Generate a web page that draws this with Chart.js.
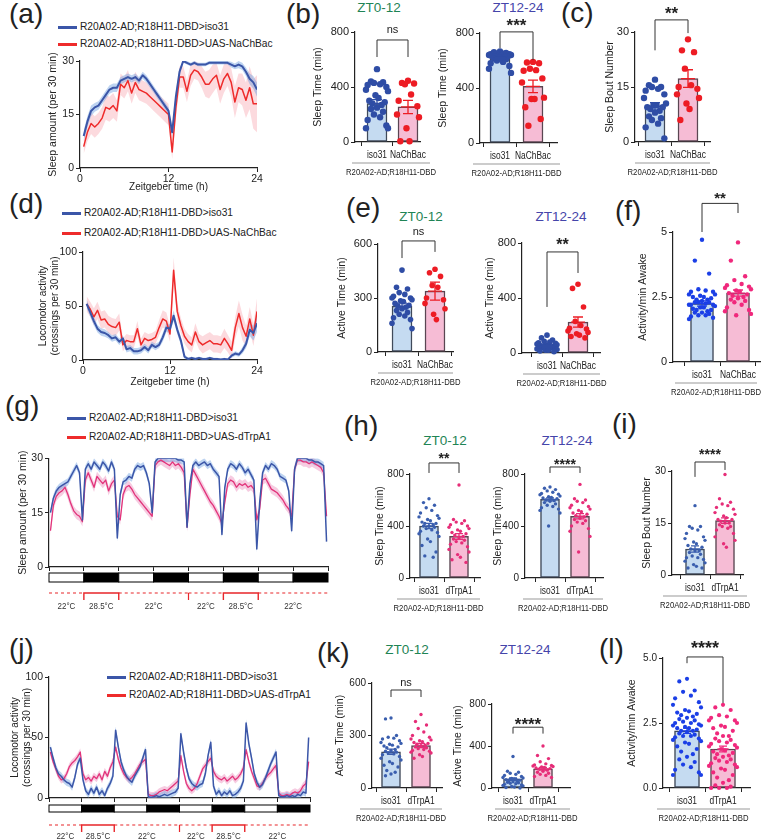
<!DOCTYPE html>
<html>
<head>
<meta charset="utf-8">
<script src="https://cdn.jsdelivr.net/npm/chart.js@4.4.1/dist/chart.umd.min.js"></script>
<style>
  body { margin: 0; width: 764px; height: 840px; position: relative; background: #fff; overflow: hidden;
         font-family: 'Liberation Sans', Arial, sans-serif; color: #222; }
  canvas { position: absolute; }
  .let { position: absolute; font-size: 28px; line-height: 28px; white-space: nowrap; }
  .zt { position: absolute; font-size: 13.5px; line-height: 14px; transform: translateX(-50%); white-space: nowrap; }
  .leg { position: absolute; font-size: 10.2px; line-height: 12px; white-space: nowrap; }
  .leg i { position: absolute; height: 2.5px; }
</style>
</head>
<body>
<script>
// ---- categories / labels ----
const catsNa = ['iso31', 'NaChBac'];
const catsTrp = ['iso31', 'dTrpA1'];
const groupLabel = 'R20A02-AD;R18H11-DBD';
const seriesNa = ['R20A02-AD;R18H11-DBD>iso31', 'R20A02-AD;R18H11-DBD>UAS-NaChBac'];
const seriesTrp = ['R20A02-AD;R18H11-DBD>iso31', 'R20A02-AD;R18H11-DBD>UAS-dTrpA1'];

// ---- (a) sleep per 30 min, 48 bins ----
const aIso = [9,13,16,17,17.5,19,20.5,22,22.5,22.5,24.5,25,25.5,25,25.5,24.5,26,25,23.5,22,20.5,19,17.5,16,10,20,27,30,29.5,29,29.5,29,29,29,29.5,29.5,29.5,29.5,29.5,29.5,29,28.5,29,28.5,27,25,24,22];
const aIsoSem = [1.5,1.5,1.5,1.2,1.2,1.2,1.2,1.2,1.2,1.2,1,1,1,1,1,1,1,1,1,1,1,1,1,1,1.5,1.5,1,0.5,0.5,0.5,0.5,0.5,0.5,0.5,0.5,0.5,0.5,0.5,0.5,0.5,0.8,0.8,1,1,1.2,1.5,1.8,2];
const aNa = [6,10,12.5,11.5,12.5,14,17,16.5,17.5,16,23.5,22.5,24.5,21,24,22,21.5,21,20,19,18,17,16,15,4.5,17,25.5,25.5,21.5,26,27.5,27,25.5,23.5,23.5,25,26,22,25,26.5,24,18.5,22.5,22,19,22.5,18,18];
const aNaSem = [2,2.5,3,3,3,3,3.5,3.5,3.5,3,3,3,3,3,3,3,3,3,3,3,3,3,3,3,2,3,3,3,3,3,2.5,2.5,3,3.5,4,4,3.5,4,4,3.5,4,4.5,4,4.5,5,6,7,8];

// ---- (d) locomotor per 30 min, 48 bins ----
const dIso = [52,44,36,29,26,25,23,20,21,17,20,10,11,8,8,9,12,9,14,12,14,21,30,29,41,28,18,3,1,2,1,2,1,1,2,1,1,0.5,1,0.5,4,6,5,9,15,28,25,34];
const dIsoSem = [4,4,4,3.5,3.5,3.5,3,3,3,3,3,3,3,3,3,3,3,3,3,3,3,4,4,4,5,4,4,2,1,1,1,1,1,1,1,1,1,1,1,1,2,2,2,3,4,6,7,8];
const dNa = [52,47,40,46,37,38,33,31,30,35,14,18,17,17,29,14,20,18,19,21,30,38,36,24,83,45,32,22,17,14,26,17,14,16,18,15,15,14,20,15,9,30,43,30,22,38,23,45];
const dNaSem = [7,7,8,8,8,8,8,8,8,8,6,6,6,6,7,6,6,6,6,6,7,8,8,7,12,8,7,7,7,7,8,7,8,8,8,8,8,8,9,8,8,10,12,12,10,11,10,12];

// ---- (g) sleep, hourly over 96 h ----
const gIso = [15,19,21,22,22.5,23,23.5,25,26.5,28,26,13,
  27,28.5,27,29,28,27,29,28,26.5,29,27,8,
  20,23.5,24,25,24.5,27,28,27.5,28,26,23,15,
  29,30,30,30,30,30,30,30,29.5,29.5,29,11,
  23,28,29,28,28.5,29,28,28.5,27,26,25,9,
  22,27,28.5,28,27,28.5,27.5,26,27,25.5,24,5,
  18,26,28,27,28.5,28,27,25,24.5,24,21,10,
  27,30,30,30,30,29.5,29.5,29,29,28.5,28,7];
const gTrp = [10,17,19.5,20.5,21,22,20,17.5,15.5,14.5,14,12.5,
  24,26,24,22,25,24,23,24,21,23,24,14,
  13,20,22,22.5,21.5,20,19,18,17,16,15,14,
  28,29,29.5,29,28.5,28,29,28,28.5,27.5,26,11,
  20,27,25.5,24,22.5,21,19.5,18,17,15.5,14,12,
  18,23,24,23.5,22,23,22.5,23,22,22.5,21.5,13,
  16,24,24.5,23,21.5,21,20.5,19.5,18.5,17,16,14,
  27,29.5,29.5,29,29,28.5,29,28.5,28,27.5,26,14];

// ---- (j) locomotor, hourly over 96 h ----
const jIso = [42,33,25,20,18,15,13,12,9,17,28,33,
  15,6,3,8,4,9,3,6,2,8,12,18,
  56,42,30,23,18,15,13,18,22,26,33,40,
  1,0.5,1,2,1,2,3,2,3,4,5,8,
  53,38,25,16,12,10,9,11,12,20,35,46,
  10,3,6,2,5,3,6,2,3,5,8,14,
  62,45,33,20,13,9,11,16,22,28,33,38,
  2,1,1,2,1,2,1,3,2,5,4,50];
const jTrp = [38,30,24,18,15,16,20,26,29,31,34,38,
  20,15,17,14,18,16,20,15,22,18,25,30,
  42,32,25,20,17,15,17,20,24,28,30,32,
  3,2,2,3,5,6,7,6,8,10,12,14,
  35,22,12,8,6,8,12,18,24,27,30,33,
  22,18,16,15,17,14,16,18,15,17,20,25,
  40,30,22,16,10,9,12,16,19,21,24,27,
  4,2,2,3,2,4,5,4,6,10,12,30];

// light/dark phases (12 h each) and temperature schedule
const ldPhases = ['L','D','L','D','L','D','L','D'];
const tempFrom = [0, 12, 24, 48, 60, 72];
const tempTo = [12, 24, 48, 60, 72, 96];
const tempC = [22, 28.5, 22, 22, 28.5, 22];

// ---- bar panels: means, SEM, individual flies ----
const bMean0 = [280, 255], bSem0 = [28, 48];
const bIso0 = [530,440,435,430,420,415,400,380,370,340,320,300,290,280,270,250,240,220,200,180,160,120,100,100];
const bNa0 = [445,430,425,420,345,300,260,200,180,100,5,5];
const bMean1 = [615, 412], bSem1 = [8, 45];
const bIso1 = [665,660,655,650,650,645,645,640,640,635,635,630,630,625,625,620,615,610,600,590,580,560,540,510];
const bNa1 = [590,585,580,540,530,525,470,440,330,320,320,260,175,125];
const cMean = [9.7, 17.3], cSem = [1.0, 2.4];
const cIso = [17,15.5,15,15,14.5,14,13,12,10.5,10,10,9.5,9.5,9,8.5,8,7,6.5,6,5,4,1];
const cNa = [28,25,24.5,20,15.5,15,14.5,13,12,10.5,9,6];
const eMean0 = [255, 338], eSem0 = [17, 50];
const eIso0 = [455,360,350,330,320,310,300,300,290,285,280,270,260,255,250,240,230,220,210,200,190,180,160,130];
const eNa0 = [460,440,420,370,360,300,290,270,240,210,180];
const eMean1 = [48, 225], eSem1 = [6, 37];
const eIso1 = [130,110,95,85,80,75,70,65,60,60,55,55,50,50,45,45,40,40,40,35,35,30,30,25,20,20,15,10];
const eNa1 = [500,470,335,230,200,180,175,160,150,140,130,120,110];
const fMean = [2.25, 2.65], fSem = [0.1, 0.12];
const fIso = [4.7,3.9,3.4,2.8,2.75,2.7,2.7,2.6,2.6,2.55,2.5,2.5,2.45,2.4,2.4,2.35,2.3,2.3,2.3,2.25,2.2,2.2,2.2,2.15,2.1,2.1,2.05,2.0,2.0,1.95,1.9,1.9,1.85,1.8,1.8,1.75,1.7,1.65];
const fNa = [4.6,3.9,3.3,3.15,3.0,2.95,2.9,2.85,2.8,2.75,2.7,2.65,2.6,2.55,2.5,2.45,2.4,2.35,2.3,2.2,2.1,2.0,1.95,1.85,1.8];
const hMean0 = [400, 320], hSem0 = [20, 22];
const hIso0 = [610,580,560,540,520,500,480,470,460,450,440,430,420,420,410,400,400,390,380,370,360,350,340,320,300,280,250,200,170,160];
const hTrp0 = [715,450,440,430,420,410,400,390,380,370,360,350,340,330,320,310,300,290,280,270,260,240,220,200,180,160,140,120];
const hMean1 = [605, 475], hSem1 = [12, 20];
const hIso1 = [700,690,680,670,660,650,645,640,630,625,620,615,610,600,595,590,580,570,560,550,540,530,520,500,400];
const hTrp1 = [720,610,600,590,580,560,550,540,530,520,510,500,490,480,470,460,450,440,430,420,400,380,360,320,200];
const iMean = [7.5, 15.7], iSem = [0.9, 0.8];
const iIso = [20,14,14,13.5,13,12,11,10.5,10,9.5,9,8.5,8,7.5,7,7,6.5,6,5.5,5,5,4.5,4,3.5,3,2.5,2,2];
const iTrp = [29,22,21,20.5,20,19.5,19,18,17.5,17,16.5,16,16,15.5,15,15,14.5,14,14,13.5,13,12,11,10,9,8];
const kMean0 = [207, 243], kSem0 = [15, 12];
const kIso0 = [400,395,300,290,285,280,270,260,255,250,245,240,235,230,220,215,210,205,200,195,190,180,170,160,150,140,130,120,100,90,80,70];
const kTrp0 = [420,380,360,340,320,300,290,280,275,270,265,260,255,250,245,240,235,230,225,220,215,210,205,200,190,180,170];
const kMean1 = [85, 183], kSem1 = [12, 13];
const kIso1 = [300,160,150,140,130,120,110,100,95,90,85,80,75,70,65,60,55,50,45,40,35,30,25,20,15,10,5,0];
const kTrp1 = [400,310,280,250,230,220,215,210,205,200,195,190,185,180,170,160,150,140,130,120,110,100];
const lMean = [2.2, 1.5], lSem = [0.1, 0.11];
const lIso = [4.2,4.1,3.75,3.7,3.55,3.45,3.3,3.2,3.1,3.0,2.95,2.9,2.85,2.8,2.75,2.7,2.65,2.6,2.55,2.5,2.5,2.45,2.4,2.4,2.35,2.3,2.3,2.25,2.2,2.2,2.15,2.1,2.05,2.0,2.0,1.95,1.9,1.85,1.8,1.75,1.7,1.6,1.5,1.4,1.3,1.2,1.1,1.0,0.9,0.8,0.7,0.6,0.5,0.5];
const lTrp = [3.2,3.1,3.0,2.8,2.75,2.7,2.6,2.6,2.5,2.4,2.35,2.3,2.2,2.1,2.0,2.0,1.9,1.85,1.8,1.75,1.7,1.65,1.6,1.55,1.5,1.45,1.4,1.35,1.3,1.25,1.2,1.15,1.1,1.05,1.0,0.95,0.9,0.85,0.8,0.75,0.7,0.6,0.5,0.4,0.3,0.2,0.1,0.05,0,0,0];

// ---- styling ----
const FONT = "'Liberation Sans', Arial, sans-serif";
const BLUE = '#3b56a8', RED = '#ee2b2b', PINK = '#e2337a';
const BAR_FILL = ['#c5dbf1', '#f6bcd5'];
const BAR_EDGE = ['#404a5a', '#5a4652'];
const DOTS_NA = ['#2f4da5', '#ed1c24'];
const DOTS_BRIGHT = ['#1b3fe6', '#f0287c'];
const DOTS_TRP = ['#3a5eae', '#e62d78'];
const JIT = [0, -0.55, 0.55, -0.28, 0.28, -0.85, 0.85, -1, 1, -0.14, 0.14, -0.7, 0.7, -0.42, 0.42];

Chart.defaults.font.family = FONT;
Chart.defaults.color = '#222';
Chart.defaults.animation = false;
Chart.defaults.events = [];
Chart.defaults.plugins.legend.display = false;
Chart.defaults.plugins.tooltip.enabled = false;

function addText(cls, text, left, top, color) {
  const d = document.createElement('div');
  d.className = cls;
  d.textContent = text;
  d.style.left = left + 'px';
  d.style.top = top + 'px';
  if (color) d.style.color = color;
  document.body.appendChild(d);
}

function addLegend(labels, colors, x, ys) {
  labels.forEach((t, i) => {
    const d = document.createElement('div');
    d.className = 'leg';
    d.style.left = (x + 22) + 'px';
    d.style.top = (ys[i] - 6) + 'px';
    d.textContent = t;
    const ln = document.createElement('i');
    ln.style.cssText = `left:-22px;width:19px;top:5px;background:${colors[i]}`;
    d.appendChild(ln);
    document.body.appendChild(d);
  });
}

function makeCanvas(ext) {
  const c = document.createElement('canvas');
  const w = ext.right - ext.x, h = ext.bottom - ext.y;
  c.width = w; c.height = h;
  c.style.cssText = `left:${ext.x}px;top:${ext.y}px;width:${w}px;height:${h}px`;
  document.body.appendChild(c);
  return c;
}

// condensed text, like the narrow face used in the figure
function narrowText(ctx, text, x, y, size) {
  ctx.save();
  ctx.font = `${size}px ${FONT}`;
  ctx.textAlign = 'center';
  ctx.textBaseline = 'middle';
  ctx.translate(x, y);
  ctx.scale(0.84, 1);
  ctx.fillText(text, 0, 0);
  ctx.restore();
}

function axisStyle() {
  return {
    grid: { drawOnChartArea: false, drawTicks: true, tickLength: 4, color: '#222', lineWidth: 1 },
    border: { display: true, color: '#222', width: 1.2 }
  };
}

function ldPlugin(p) {
  return {
    id: 'ld',
    afterDraw(chart) {
      const { ctx, scales: { x }, chartArea: ca } = chart;
      ctx.save();
      ctx.lineWidth = 1;
      ctx.strokeStyle = '#000';
      ldPhases.forEach((ph, i) => {
        const x0 = x.getPixelForValue(i * 12), x1 = x.getPixelForValue((i + 1) * 12);
        ctx.fillStyle = ph === 'D' ? '#000' : '#fff';
        ctx.fillRect(x0, ca.bottom + p.ld[0], x1 - x0, p.ld[1]);
        ctx.strokeRect(x0, ca.bottom + p.ld[0], x1 - x0, p.ld[1]);
      });
      const ty = ca.bottom + p.temp[0];
      ctx.strokeStyle = '#e8262a';
      ctx.fillStyle = '#333';
      tempC.forEach((t, i) => {
        const x0 = x.getPixelForValue(tempFrom[i]), x1 = x.getPixelForValue(tempTo[i]);
        ctx.beginPath();
        if (t > 25) {
          ctx.setLineDash([]);
          ctx.lineWidth = 1.4;
          ctx.moveTo(x0, ty + 7); ctx.lineTo(x0, ty); ctx.lineTo(x1, ty); ctx.lineTo(x1, ty + 7);
        } else {
          ctx.setLineDash([3, 3]);
          ctx.lineWidth = 1;
          ctx.moveTo(x0, ty); ctx.lineTo(x1, ty);
        }
        ctx.stroke();
        if (i > 0 && t <= 25 && tempC[i - 1] <= 25) {
          ctx.setLineDash([]);
          ctx.lineWidth = 1.2;
          ctx.beginPath(); ctx.moveTo(x0, ty); ctx.lineTo(x0, ty + 7); ctx.stroke();
        }
        narrowText(ctx, t + '°C', (x0 + x1) / 2, ca.bottom + p.temp[1], 9.5);
      });
      ctx.restore();
    }
  };
}

function timePanel(p) {
  const c = makeCanvas(p.ext);
  const xs = i => p.x0 + i * p.step;
  const semAt = (s, i) => Array.isArray(s) ? s[i] : s;
  const line = (m, color, w) => ({ data: m.map((v, i) => ({ x: xs(i), y: v })), borderColor: color, borderWidth: w,
    pointRadius: 0, fill: false, tension: 0, borderJoinStyle: 'round' });
  const edge = (m, s, k) => ({ data: m.map((v, i) => ({ x: xs(i), y: Math.max(0, v + k * semAt(s, i)) })),
    borderWidth: 0, pointRadius: 0, tension: 0 });
  const datasets = [
    line(p.series[0], p.colors[0], p.widths[0]),
    line(p.series[1], p.colors[1], p.widths[1]),
    { ...edge(p.series[0], p.sems[0], 1), fill: false },
    { ...edge(p.series[0], p.sems[0], -1), fill: '-1', backgroundColor: p.bands[0] },
    { ...edge(p.series[1], p.sems[1], 1), fill: false },
    { ...edge(p.series[1], p.sems[1], -1), fill: '-1', backgroundColor: p.bands[1] }
  ];
  new Chart(c, {
    type: 'line',
    data: { datasets },
    options: {
      responsive: false,
      layout: { padding: { top: p.area.t - p.ext.y, right: p.ext.right - p.area.r, left: 0, bottom: 0 } },
      scales: {
        x: {
          type: 'linear', min: 0, max: p.xMax, ...axisStyle(),
          ticks: { stepSize: 12, display: !!p.xTitle, font: { size: 10.5 }, padding: 1, autoSkip: false, maxRotation: 0 },
          title: { display: !!p.xTitle, text: p.xTitle || '', font: { size: 10 }, padding: 0 },
          afterFit: s => { s.height = p.ext.bottom - p.area.b; }
        },
        y: {
          min: 0, max: p.yMax, ...axisStyle(),
          ticks: { stepSize: p.yMax / 2, font: { size: 10.5 }, padding: 2 },
          title: { display: true, text: p.yTitle, font: { size: p.yTitleSize }, padding: 0 },
          afterFit: s => { s.width = p.area.l - p.ext.x; }
        }
      }
    },
    plugins: p.ld ? [ldPlugin(p)] : []
  });
}

function barExtras(p) {
  return {
    id: 'barExtras',
    afterDatasetsDraw(chart) {
      const { ctx, scales: { x, y }, chartArea: ca } = chart;
      ctx.save();
      p.means.forEach((m, i) => {
        const cx = x.getPixelForValue(i);
        const y0 = y.getPixelForValue(m - p.sems[i]), y1 = y.getPixelForValue(m + p.sems[i]), ym = y.getPixelForValue(m);
        ctx.strokeStyle = p.dotColors[i];
        ctx.lineWidth = 1.3;
        ctx.beginPath();
        ctx.moveTo(cx, y0); ctx.lineTo(cx, y1);
        ctx.moveTo(cx - p.cap, y0); ctx.lineTo(cx + p.cap, y0);
        ctx.moveTo(cx - p.cap, y1); ctx.lineTo(cx + p.cap, y1);
        ctx.moveTo(cx - p.cap * 1.4, ym); ctx.lineTo(cx + p.cap * 1.4, ym);
        ctx.stroke();
      });
      const br = p.bracket;
      const xl = x.getPixelForValue(0), xr = x.getPixelForValue(1), yt = y.getPixelForValue(br.top);
      ctx.strokeStyle = '#333';
      ctx.lineWidth = 1;
      ctx.beginPath();
      ctx.moveTo(xl, y.getPixelForValue(br.left)); ctx.lineTo(xl, yt);
      ctx.lineTo(xr, yt); ctx.lineTo(xr, y.getPixelForValue(br.right));
      ctx.stroke();
      ctx.fillStyle = '#222';
      ctx.textAlign = 'center';
      const ty = y.getPixelForValue(br.textAt);
      if (br.text.includes('*')) {
        ctx.font = `bold ${br.size}px ${FONT}`;
        ctx.textBaseline = 'alphabetic';
        ctx.fillText(br.text, (xl + xr) / 2, ty + br.size * 0.52);
      } else {
        ctx.font = `11px ${FONT}`;
        ctx.textBaseline = 'middle';
        ctx.fillText(br.text, (xl + xr) / 2, ty);
      }
      // category names under the ticks, then the shared genotype line
      ctx.fillStyle = '#222';
      p.cats.forEach((name, i) => narrowText(ctx, name, x.getPixelForValue(i), ca.bottom + 13, 10));
      const gy = ca.bottom + 21;
      ctx.strokeStyle = '#999';
      ctx.beginPath();
      ctx.moveTo(p.group[0] - p.ext.x, gy); ctx.lineTo(p.group[1] - p.ext.x, gy);
      ctx.stroke();
      narrowText(ctx, groupLabel, (p.group[0] + p.group[1]) / 2 - p.ext.x, ca.bottom + 30, 9.2);
      ctx.restore();
    }
  };
}

function barPanel(p) {
  const c = makeCanvas(p.ext);
  const unit = p.bars[1] - p.bars[0];
  const xmin = -(p.bars[0] - p.area.l) / unit, xmax = 1 + (p.area.r - p.bars[1]) / unit;
  const spread = p.spread / unit;
  const dotSet = (vals, g) => ({
    type: 'scatter', order: 0, clip: false,
    data: vals.map((v, i) => ({ x: g + JIT[i % JIT.length] * spread, y: v })),
    pointRadius: p.r, pointBackgroundColor: p.dotColors[g], pointBorderWidth: 0
  });
  new Chart(c, {
    type: 'bar',
    data: {
      datasets: [
        dotSet(p.dots[0], 0),
        dotSet(p.dots[1], 1),
        { type: 'bar', order: 1, data: p.means.map((m, i) => ({ x: i, y: m })), backgroundColor: BAR_FILL,
          borderColor: BAR_EDGE, borderWidth: 1.5, borderSkipped: false, barThickness: p.barW }
      ]
    },
    options: {
      responsive: false,
      layout: { padding: { top: p.area.t - p.ext.y, right: p.ext.right - p.area.r, left: 0, bottom: 0 } },
      scales: {
        x: {
          type: 'linear', min: xmin, max: xmax, offset: false, ...axisStyle(),
          afterBuildTicks: s => { s.ticks = [{ value: 0 }, { value: 1 }]; },
          ticks: { callback: () => '', padding: 0, autoSkip: false, maxRotation: 0 },
          afterFit: s => { s.height = p.ext.bottom - p.area.b; }
        },
        y: {
          min: 0, max: p.yMax, ...axisStyle(),
          ticks: { stepSize: p.yMax / 2, font: { size: p.tickSize }, padding: 2,
                   callback: v => p.fixed ? v.toFixed(1) : String(v) },
          title: { display: true, text: p.yTitle, font: { size: 10.5 }, padding: 0 },
          afterFit: s => { s.width = p.area.l - p.ext.x; }
        }
      }
    },
    plugins: [barExtras(p)]
  });
}

// ---------- panel letters & titles ----------
[['(a)', 9, 0], ['(b)', 286, 0], ['(c)', 561, -1], ['(d)', 9, 190], ['(e)', 346, 194], ['(f)', 615, 197],
 ['(g)', 5, 392], ['(h)', 344, 412], ['(i)', 612, 410], ['(j)', 9, 635], ['(k)', 317, 639], ['(l)', 599, 635]]
  .forEach(([t, x, y]) => addText('let', t, x, y));
const GREEN = '#1f8455', SLATE = '#4545aa';
[['ZT0-12', 379, 1, GREEN], ['ZT12-24', 518, 1, SLATE], ['ZT0-12', 421, 210, GREEN], ['ZT12-24', 561, 210, SLATE],
 ['ZT0-12', 445, 434, GREEN], ['ZT12-24', 567, 434, SLATE], ['ZT0-12', 407, 643, GREEN], ['ZT12-24', 525, 643, SLATE]]
  .forEach(([t, x, y, col]) => addText('zt', t, x, y, col));

addLegend(seriesNa, [BLUE, RED], 58, [27, 44]);
addLegend(seriesNa, [BLUE, RED], 62, [213, 233]);
addLegend(seriesTrp, [BLUE, RED], 67, [418, 437]);
addLegend(seriesTrp, [BLUE, RED], 107, [677, 695]);

// ---------- time courses ----------
timePanel({ ext: { x: 47, y: 50, right: 268, bottom: 193 }, area: { l: 80, r: 257, t: 61, b: 168 },
  series: [aIso, aNa], sems: [aIsoSem, aNaSem], colors: [BLUE, RED], widths: [2, 1.5],
  bands: ['rgba(110,160,225,0.45)', 'rgba(245,150,160,0.35)'], x0: 0.5, step: 0.5, xMax: 24, yMax: 30,
  xTitle: 'Zeitgeber time (h)', yTitle: 'Sleep amount (per 30 min)', yTitleSize: 10.5 });
timePanel({ ext: { x: 37, y: 242, right: 268, bottom: 388 }, area: { l: 83, r: 257, t: 252, b: 360 },
  series: [dIso, dNa], sems: [dIsoSem, dNaSem], colors: [BLUE, RED], widths: [2, 1.5],
  bands: ['rgba(110,160,225,0.45)', 'rgba(245,150,160,0.35)'], x0: 0.5, step: 0.5, xMax: 24, yMax: 100,
  xTitle: 'Zeitgeber time (h)', yTitle: ['Locomotor activity', '(crossings per 30 min)'], yTitleSize: 10 });
timePanel({ ext: { x: 17, y: 450, right: 336, bottom: 615 }, area: { l: 49, r: 328, t: 458, b: 567 },
  series: [gIso, gTrp], sems: [1.0, 1.3], colors: [BLUE, PINK], widths: [1.5, 1.3],
  bands: ['rgba(110,160,225,0.45)', 'rgba(230,110,170,0.35)'], x0: 0.5, step: 1, xMax: 96, yMax: 30,
  yTitle: 'Sleep amount (per 30 min)', yTitleSize: 10.5, ld: [6, 9], temp: [26, 39] });
timePanel({ ext: { x: 9, y: 668, right: 318, bottom: 840 }, area: { l: 49, r: 310, t: 677, b: 798 },
  series: [jIso, jTrp], sems: [3, 3], colors: [BLUE, PINK], widths: [1.5, 1.3],
  bands: ['rgba(110,160,225,0.45)', 'rgba(230,110,170,0.35)'], x0: 0.5, step: 1, xMax: 96, yMax: 100,
  yTitle: ['Locomotor activity', '(crossings per 30 min)'], yTitleSize: 10, ld: [7, 7], temp: [27, 38] });

// ---------- bar + dot panels ----------
const base = { cap: 5, tickSize: 11 };
barPanel({ ...base, ext: { x: 312, y: 14, right: 440, bottom: 180 }, area: { l: 355, r: 420, t: 32, b: 142 }, bars: [377, 408],
  cats: catsNa, means: bMean0, sems: bSem0, dots: [bIso0, bNa0], dotColors: DOTS_NA, r: 3.2, barW: 20, spread: 11,
  yMax: 800, yTitle: 'Sleep Time (min)', group: [352, 430], bracket: { top: 742, left: 618, right: 618, text: 'ns', textAt: 815 } });
barPanel({ ...base, ext: { x: 437, y: 12, right: 570, bottom: 180 }, area: { l: 480, r: 557, t: 33, b: 143 }, bars: [500, 533],
  cats: catsNa, means: bMean1, sems: bSem1, dots: [bIso1, bNa1], dotColors: DOTS_NA, r: 3.2, barW: 20, spread: 11,
  yMax: 800, yTitle: 'Sleep Time (min)', group: [473, 560], bracket: { top: 808, left: 690, right: 604, text: '***', textAt: 880, size: 17 } });
barPanel({ ...base, ext: { x: 604, y: 0, right: 722, bottom: 180 }, area: { l: 635, r: 710, t: 32, b: 142 }, bars: [655, 688],
  cats: catsNa, means: cMean, sems: cSem, dots: [cIso, cNa], dotColors: DOTS_NA, r: 3.2, barW: 20, spread: 11,
  yMax: 30, yTitle: 'Sleep Bout Number', group: [635, 710], bracket: { top: 33.3, left: 25, right: 29.7, text: '**', textAt: 36, size: 17 } });
barPanel({ ...base, ext: { x: 336, y: 224, right: 464, bottom: 392 }, area: { l: 378, r: 453, t: 244, b: 352 }, bars: [402, 435],
  cats: catsNa, means: eMean0, sems: eSem0, dots: [eIso0, eNa0], dotColors: DOTS_NA, r: 2.8, barW: 20, spread: 10,
  yMax: 600, yTitle: 'Active Time (min)', group: [378, 453], bracket: { top: 617, left: 522, right: 556, text: 'ns', textAt: 667 } });
barPanel({ ...base, ext: { x: 484, y: 232, right: 612, bottom: 392 }, area: { l: 522, r: 600, t: 243, b: 353 }, bars: [547, 578],
  cats: catsNa, means: eMean1, sems: eSem1, dots: [eIso1, eNa1], dotColors: DOTS_NA, r: 2.8, barW: 20, spread: 10,
  yMax: 800, yTitle: 'Active Time (min)', group: [523, 600], bracket: { top: 735, left: 335, right: 582, text: '**', textAt: 807, size: 16 } });
barPanel({ ...base, ext: { x: 637, y: 186, right: 764, bottom: 398 }, area: { l: 673, r: 760, t: 232, b: 362 }, bars: [702, 738],
  cats: catsNa, means: fMean, sems: fSem, dots: [fIso, fNa], dotColors: DOTS_BRIGHT, r: 2.2, barW: 23, spread: 13,
  yMax: 5, yTitle: 'Activity/min Awake', group: [675, 757], bracket: { top: 6.1, left: 5.0, right: 5.73, text: '**', textAt: 6.42, size: 15 } });
const small = { cap: 4, tickSize: 10 };
barPanel({ ...small, ext: { x: 374, y: 448, right: 492, bottom: 615 }, area: { l: 410, r: 480, t: 474, b: 578 }, bars: [429, 459],
  cats: catsTrp, means: hMean0, sems: hSem0, dots: [hIso0, hTrp0], dotColors: DOTS_TRP, r: 1.7, barW: 19, spread: 10,
  yMax: 800, yTitle: 'Sleep Time (min)', group: [397, 480], bracket: { top: 885, left: 808, right: 808, text: '**', textAt: 938, size: 14 } });
barPanel({ ...small, ext: { x: 492, y: 454, right: 614, bottom: 615 }, area: { l: 525, r: 603, t: 474, b: 578 }, bars: [550, 580],
  cats: catsTrp, means: hMean1, sems: hSem1, dots: [hIso1, hTrp1], dotColors: DOTS_TRP, r: 1.7, barW: 19, spread: 10,
  yMax: 800, yTitle: 'Sleep Time (min)', group: [523, 603], bracket: { top: 854, left: 808, right: 808, text: '****', textAt: 892, size: 14 } });
barPanel({ ...small, ext: { x: 641, y: 444, right: 758, bottom: 615 }, area: { l: 672, r: 743, t: 471, b: 575 }, bars: [695, 725],
  cats: catsTrp, means: iMean, sems: iSem, dots: [iIso, iTrp], dotColors: DOTS_TRP, r: 1.7, barW: 19, spread: 10,
  yMax: 30, yTitle: 'Sleep Bout Number', group: [663, 747], bracket: { top: 32.6, left: 28.3, right: 30.3, text: '****', textAt: 35.5, size: 14 } });
barPanel({ ...small, ext: { x: 334, y: 674, right: 458, bottom: 828 }, area: { l: 372, r: 442, t: 683, b: 788 }, bars: [391, 421],
  cats: catsTrp, means: kMean0, sems: kSem0, dots: [kIso0, kTrp0], dotColors: DOTS_TRP, r: 1.7, barW: 19, spread: 10,
  yMax: 600, yTitle: 'Active Time (min)', group: [360, 442], bracket: { top: 560, left: 520, right: 520, text: 'ns', textAt: 600 } });
barPanel({ ...small, ext: { x: 452, y: 696, right: 582, bottom: 828 }, area: { l: 492, r: 570, t: 683, b: 788 }, bars: [513, 543],
  cats: catsTrp, means: kMean1, sems: kSem1, dots: [kIso1, kTrp1], dotColors: DOTS_TRP, r: 1.7, barW: 19, spread: 10,
  yMax: 800, yTitle: 'Active Time (min)', group: [495, 570], bracket: { top: 579, left: 518, right: 518, text: '****', textAt: 632, size: 17 } });
barPanel({ ...small, ext: { x: 626, y: 636, right: 762, bottom: 828 }, area: { l: 663, r: 750, t: 658, b: 788 }, bars: [687, 723],
  cats: catsTrp, means: lMean, sems: lSem, dots: [lIso, lTrp], dotColors: DOTS_BRIGHT, r: 2.1, barW: 25, spread: 14, fixed: true,
  yMax: 5, yTitle: 'Activity/min Awake', group: [657, 750], bracket: { top: 5.04, left: 4.8, right: 3.27, text: '****', textAt: 5.5, size: 18 } });
</script>
</body>
</html>
